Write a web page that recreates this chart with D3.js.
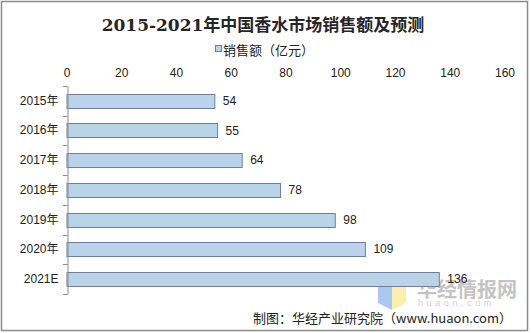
<!DOCTYPE html>
<html><head><meta charset="utf-8">
<script src="https://cdn.jsdelivr.net/npm/d3@7"></script>
<style>body{margin:0;background:#fff}svg{display:block}</style>
</head><body>
<script>
const categories = ["2015年","2016年","2017年","2018年","2019年","2020年","2021E"];
const values = [54,55,64,78,98,109,136];
const xTicks = [0,20,40,60,80,100,120,140,160];
const titleText = "2015-2021年中国香水市场销售额及预测";
const legendText = "销售额（亿元）";
const sourceText = "制图：华经产业研究院（www.huaon.com）";

const W=531,H=333;
const svg=d3.select("body").append("svg").attr("width",W).attr("height",H);
svg.append("rect").attr("x",1.5).attr("y",1.5).attr("width",526).attr("height",329)
  .attr("fill","#fff").attr("stroke","#8c8c8c").attr("stroke-width",1.5);

const x=d3.scaleLinear().domain([0,160]).range([67,505]);
const y=d3.scaleBand().domain(categories).range([86,294]).paddingInner(0.52).paddingOuter(0.26);

// watermark
const wm=svg.append("g");
wm.append("path").attr("d","M378,278 L392,284 L392,310 L378,303 Z").attr("fill","#a9c8f2");
wm.append("path").attr("d","M392,284 L406,278 L406,303 L392,310 Z").attr("fill","#fbeeaa");
wm.append("text").attr("x",417).attr("y",297).attr("font-family","Noto Sans CJK SC").attr("font-weight","bold")
  .attr("font-size",20).attr("fill","#c4c4c4").text("华经情报网");
wm.append("text").attr("x",418).attr("y",306).attr("font-family","Liberation Sans").attr("font-size",9)
  .attr("letter-spacing",3.6).attr("fill","#cfcfcf").text("huaon.com");

svg.append("text").attr("x",263).attr("y",31).attr("text-anchor","middle")
  .attr("font-family","DejaVu Serif, Noto Sans CJK SC").attr("font-weight","bold").attr("font-size",17)
  .attr("fill","#262626").text(titleText);

svg.append("rect").attr("x",215.5).attr("y",45.5).attr("width",6).attr("height",6)
  .attr("fill","#b9d4e8").attr("stroke","#6c7ea8");
svg.append("text").attr("x",223).attr("y",55).attr("font-family","Noto Sans CJK SC").attr("font-size",13)
  .attr("fill","#222").text(legendText);

// top tick labels
svg.append("g").selectAll("text").data(xTicks).join("text")
  .attr("x",d=>x(d)).attr("y",77).attr("text-anchor","middle")
  .attr("font-family","Liberation Sans, Arial").attr("font-size",12).attr("fill","#222").text(d=>d);

// bars
svg.append("g").selectAll("rect").data(values).join("rect")
  .attr("x",x(0)).attr("y",(d,i)=>Math.round(y(categories[i]))+0.5)
  .attr("width",d=>x(d)-x(0)).attr("height",Math.round(y.bandwidth()))
  .attr("fill","#b9d4e8").attr("stroke","#6c7ea8").attr("stroke-width",1);

svg.append("g").selectAll("text").data(values).join("text")
  .attr("x",d=>x(d)+8).attr("y",(d,i)=>y(categories[i])+y.bandwidth()/2+4)
  .attr("font-family","Liberation Sans, Arial").attr("font-size",12).attr("fill","#222").text(d=>d);

// y axis
const yAxis=d3.axisLeft(y).tickSize(0).tickPadding(9);
const ga=svg.append("g").attr("transform",`translate(${x(0)+0.5},0)`).call(yAxis);
ga.select(".domain").attr("stroke","#8c8c8c");
ga.selectAll("text").attr("font-family","Liberation Sans, Noto Sans CJK SC").attr("font-size",12).attr("fill","#222");
// boundary ticks
const bounds=d3.range(categories.length+1).map(i=>86+i*(294-86)/categories.length);
svg.append("g").selectAll("line").data(bounds).join("line")
  .attr("x1",x(0)-4).attr("x2",x(0)+0.5).attr("y1",d=>Math.round(d)+0.5).attr("y2",d=>Math.round(d)+0.5)
  .attr("stroke","#8c8c8c");

svg.append("text").attr("x",512).attr("y",323).attr("text-anchor","end")
  .attr("font-family","Noto Sans CJK SC").attr("font-size",13).attr("fill","#222").text(sourceText);
</script>
</body></html>
